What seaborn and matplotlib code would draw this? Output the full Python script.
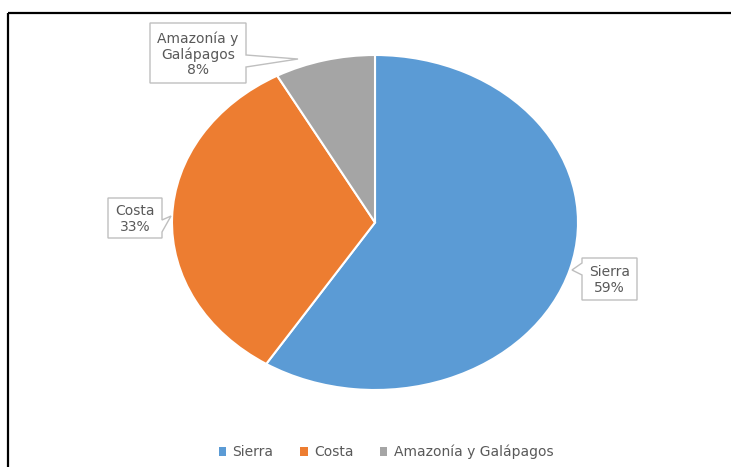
import matplotlib
matplotlib.use("Agg")
import matplotlib.pyplot as plt
import seaborn as sns
from matplotlib.patches import Polygon, Patch
from matplotlib.lines import Line2D

sns.set_theme(style="white")
plt.rcParams["font.family"] = ["DejaVu Sans"]

# Distribución por región
regions = ["Sierra", "Costa", "Amazonía y Galápagos"]
shares = [59, 33, 8]
box_labels = ["Sierra", "Costa", "Amazonía y\nGalápagos"]
colors = ["#5B9BD5", "#ED7D31", "#A5A5A5"]
text_color = "#595959"

W, H = 731, 467
fig = plt.figure(figsize=(W / 100, H / 100), dpi=100)
fig.patch.set_facecolor("white")

# Pie drawn in an axes whose units are stretched horizontally (ellipse look)
cx, cy, rx, ry = 375, 222.5, 203, 167.5
ax = fig.add_axes([0, 0, 1, 1])
ax.pie(shares, colors=colors, startangle=90, counterclock=False,
       wedgeprops=dict(edgecolor="white", linewidth=1.5))
ax.set_aspect("auto")
ax.set_xlim(-cx / rx, (W - cx) / rx)
ax.set_ylim(-(H - cy) / ry, cy / ry)
ax.axis("off")

# Overlay in pixel coordinates for callouts and frame
ov = fig.add_axes([0, 0, 1, 1], facecolor="none")
ov.set_xlim(0, W)
ov.set_ylim(H, 0)
ov.axis("off")

# Frame (top and left edges)
ov.add_line(Line2D([8, W], [13, 13], color="black", lw=1.6, solid_capstyle="butt"))
ov.add_line(Line2D([8, 8], [13, H], color="black", lw=1.6, solid_capstyle="butt"))

# Callout boxes: (left, top, right, bottom), pointer polygon side
callouts = [
    dict(box=(582, 258, 637, 300), side="left", b0=263, b1=275, tip=(572, 270)),
    dict(box=(108, 198, 162, 238), side="right", b0=220, b1=232, tip=(171, 216)),
    dict(box=(150, 23, 246, 83), side="right", b0=55, b1=67, tip=(298, 59)),
]

for lab, val, co in zip(box_labels, shares, callouts):
    l, t, r, b = co["box"]
    tx, ty = co["tip"]
    if co["side"] == "left":
        pts = [(l, t), (r, t), (r, b), (l, b), (l, co["b1"]), (tx, ty), (l, co["b0"])]
    else:
        pts = [(l, t), (r, t), (r, co["b0"]), (tx, ty), (r, co["b1"]), (r, b), (l, b)]
    ov.add_patch(Polygon(pts, closed=True, facecolor="white",
                         edgecolor="#BFBFBF", lw=1.0, zorder=3))
    ov.text((l + r) / 2, (t + b) / 2 + 1, f"{lab}\n{val}%", ha="center", va="center",
            fontsize=10, color=text_color, linespacing=1.1, zorder=4)

# Legend along the bottom
handles = [Patch(facecolor=c, edgecolor="none", label=n) for c, n in zip(colors, regions)]
leg = fig.legend(handles=handles, loc="center", bbox_to_anchor=(386 / W, 1 - 452 / H),
                 ncol=3, frameon=False, fontsize=10, handlelength=0.55, handleheight=0.55,
                 handletextpad=0.45, columnspacing=1.9, labelcolor=text_color)

fig.savefig("out.png", dpi=100, facecolor="white")
